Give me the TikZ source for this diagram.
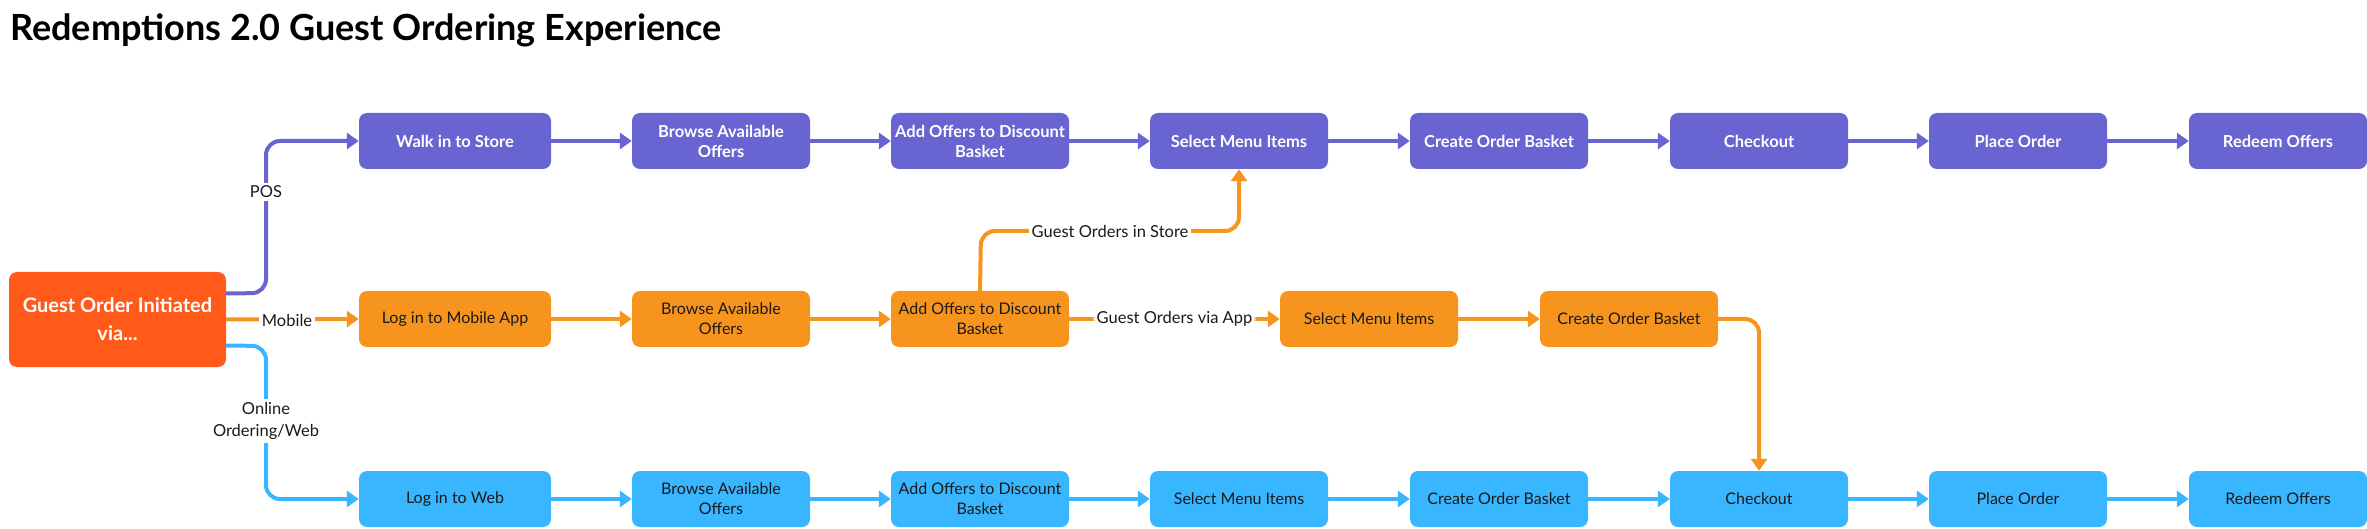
\documentclass[tikz,border=0pt]{standalone}
\usepackage{fontspec}
\setmainfont{Lato}
\usetikzlibrary{arrows.meta,calc}
\definecolor{cpur}{HTML}{6864D1}
\definecolor{cora}{HTML}{F7941D}
\definecolor{cblu}{HTML}{38B6FF}
\definecolor{cstart}{HTML}{FF5A1A}
\definecolor{ctxt}{HTML}{1A1A1A}
\tikzset{
  box/.style={rectangle, rounded corners=8pt, minimum width=178pt, minimum height=56pt,
    align=center, inner sep=2pt, font=\fontsize{16}{20}\selectfont},
  pbox/.style={box, fill=cpur, text=white, font=\fontsize{16.5}{20}\selectfont\bfseries},
  obox/.style={box, fill=cora, text=ctxt},
  bbox/.style={box, fill=cblu, text=ctxt},
  conn/.style={line width=4pt, rounded corners=14pt, -{Triangle[length=12pt,width=16pt]}},
  pline/.style={conn, draw=cpur},
  oline/.style={conn, draw=cora},
  bline/.style={conn, draw=cblu},
  lbl/.style={fill=white, text=ctxt, inner sep=3pt, align=center, font=\fontsize{16.5}{22}\selectfont},
}
\begin{document}
\begin{tikzpicture}[x=1pt,y=-1pt]
\useasboundingbox (0,0) rectangle (2367,529);
\node[anchor=base west, font=\fontsize{36}{42}\selectfont\bfseries, text=black, inner sep=0pt] (title) at (10,41) {Redemptions 2.0 Guest Ordering Experience};
% start
\node[rectangle, rounded corners=8pt, fill=cstart, text=white, minimum width=217pt, minimum height=95pt, align=center, font=\fontsize{20}{28}\selectfont\bfseries] (start) at (117.5,319.5) {Guest Order Initiated\\via...};
% purple row
\node[pbox, minimum width=192pt] (p1) at (455,141) {Walk in to Store};
\node[pbox] (p2) at (721,141) {Browse Available\\Offers};
\node[pbox] (p3) at (980,141) {Add Offers to Discount\\Basket};
\node[pbox] (p4) at (1239,141) {Select Menu Items};
\node[pbox] (p5) at (1499,141) {Create Order Basket};
\node[pbox] (p6) at (1759,141) {Checkout};
\node[pbox] (p7) at (2018,141) {Place Order};
\node[pbox] (p8) at (2278,141) {Redeem Offers};
% orange row
\node[obox, minimum width=192pt] (o1) at (455,319) {Log in to Mobile App};
\node[obox] (o2) at (721,319) {Browse Available\\Offers};
\node[obox] (o3) at (980,319) {Add Offers to Discount\\Basket};
\node[obox] (o4) at (1369,319) {Select Menu Items};
\node[obox] (o5) at (1629,319) {Create Order Basket};
% blue row
\node[bbox, minimum width=192pt] (b1) at (455,499) {Log in to Web};
\node[bbox] (b2) at (721,499) {Browse Available\\Offers};
\node[bbox] (b3) at (980,499) {Add Offers to Discount\\Basket};
\node[bbox] (b4) at (1239,499) {Select Menu Items};
\node[bbox] (b5) at (1499,499) {Create Order Basket};
\node[bbox] (b6) at (1759,499) {Checkout};
\node[bbox] (b7) at (2018,499) {Place Order};
\node[bbox] (b8) at (2278,499) {Redeem Offers};
% start connectors
\coordinate (sp) at ($(start.east)+(0,-26)$);
\coordinate (sb) at ($(start.east)+(0,26)$);
\draw[pline] (sp) -- (266,293) -- (266,141) -- (p1.west);
\node[lbl] at (266,192) {POS};
\draw[oline] (start.east) -- (o1.west);
\node[lbl] at (287,320) {Mobile};
\draw[bline] (sb) -- (266,346) -- (266,499) -- (b1.west);
\node[lbl] at (266,421) {Online\\Ordering/Web};
% chains
\foreach \a/\b in {p1/p2,p2/p3,p3/p4,p4/p5,p5/p6,p6/p7,p7/p8} \draw[pline] (\a) -- (\b);
\foreach \a/\b in {o1/o2,o2/o3,o4/o5} \draw[oline] (\a) -- (\b);
\foreach \a/\b in {b1/b2,b2/b3,b3/b4,b4/b5,b5/b6,b6/b7,b7/b8} \draw[bline] (\a) -- (\b);
\draw[oline] (o3) -- node[lbl] {Guest Orders via App} (o4);
\draw[oline] (o3.north) -- (981,231) -- (1239,231) -- (p4.south);
\node[lbl] at (1110,231) {Guest Orders in Store};
\draw[oline] (o5.east) -- (1759,319) -- (b6.north);
\end{tikzpicture}
\end{document}
